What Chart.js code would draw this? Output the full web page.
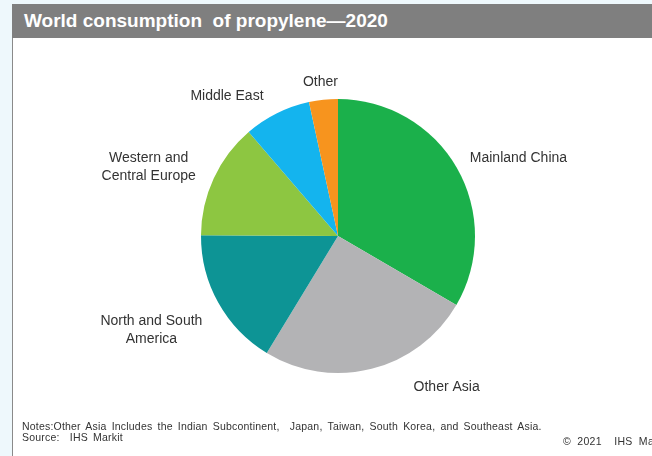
<!DOCTYPE html>
<html>
<head>
<meta charset="utf-8">
<script src="https://cdn.jsdelivr.net/npm/chart.js@4"></script>
<style>
  html, body { margin: 0; padding: 0; }
  body { width: 652px; height: 456px; background: #eef8fc; position: relative; overflow: hidden; font-family: "Liberation Sans", Arial, sans-serif; }
  .bar { position: absolute; left: 12px; top: 4px; width: 640px; height: 34px; background: #7f7f7f; }
  .bar span { position: absolute; left: 12px; top: 6px; color: #fff; font: bold 19px "Liberation Sans Narrow", "Liberation Sans", Arial, sans-serif; }
  .panel { position: absolute; left: 12px; top: 38px; width: 640px; height: 418px; background: #fff; border-left: 1px solid #8a8a8a; box-sizing: border-box; }
  #pie { position: absolute; left: 13px; top: 38px; }
  .notes { position: absolute; left: 22px; top: 421px; font-size: 10.5px; line-height: 11px; color: #333; letter-spacing: 0.2px; word-spacing: 2px; white-space: nowrap; }
  .copy { position: absolute; left: 563px; top: 435px; font-size: 10.5px; color: #333; white-space: nowrap; letter-spacing: 0.3px; word-spacing: 3px; }
</style>
</head>
<body>
<div class="bar"><span>World consumption&nbsp; of propylene—2020</span></div>
<div class="panel"></div>
<canvas id="pie" width="639" height="418"></canvas>
<div class="notes">Notes:Other Asia Includes the Indian Subcontinent,&nbsp; Japan, Taiwan, South Korea, and Southeast Asia.<br>Source:&nbsp; IHS Markit</div>
<div class="copy">© 2021&nbsp; IHS Markit</div>

<script>
// share of world propylene consumption, 2020 (%)
let regions = ['Mainland China', 'Other Asia', 'North and South America', 'Western and Central Europe', 'Middle East', 'Other'];
let labelLines = [['Mainland China'], ['Other Asia'], ['North and South', 'America'], ['Western and', 'Central Europe'], ['Middle East'], ['Other']];
let shares = [33.4, 25.3, 16.4, 13.6, 7.9, 3.4];
let colors = ['#1bb04b', '#b3b3b5', '#0d9495', '#8dc641', '#14b4ee', '#f7941e'];

/* outside labels: anchored on the arc edge at mid-angle, nudged per slice */
let nudges = [
  { dx: 13, dy: -10, align: 'left' },
  { dx: 75, dy: 18, align: 'center' },
  { dx: -67, dy: 27, align: 'center' },
  { dx: -65, dy: -11, align: 'center' },
  { dx: -50, dy: -17, align: 'center' },
  { dx: -3, dy: -18, align: 'center' }
];

const outsideLabels = {
  id: 'outsideLabels',
  afterDraw(chart) {
    let ctx = chart.ctx;
    let meta = chart.getDatasetMeta(0);
    ctx.save();
    ctx.font = '14px "Liberation Sans", Arial, sans-serif';
    ctx.fillStyle = '#333';
    ctx.textBaseline = 'middle';
    meta.data.forEach((arc, i) => {
      let p = arc.getProps(['x', 'y', 'startAngle', 'endAngle', 'outerRadius']);
      let mid = (p.startAngle + p.endAngle) / 2;
      let x = p.x + Math.cos(mid) * p.outerRadius + nudges[i].dx;
      let y = p.y + Math.sin(mid) * p.outerRadius + nudges[i].dy;
      let lines = labelLines[i];
      ctx.textAlign = nudges[i].align;
      lines.forEach((line, j) => {
        ctx.fillText(line, x, y + (j - (lines.length - 1) / 2) * 18);
      });
    });
    ctx.restore();
  }
};

new Chart(document.getElementById('pie'), {
  type: 'pie',
  data: {
    labels: regions,
    datasets: [{
      data: shares,
      backgroundColor: colors,
      borderWidth: 0
    }]
  },
  options: {
    responsive: false,
    animation: false,
    layout: { padding: { top: 61, bottom: 83, left: 188, right: 177 } },
    plugins: {
      legend: { display: false },
      tooltip: { enabled: false }
    }
  },
  plugins: [outsideLabels]
});
</script>
</body>
</html>
